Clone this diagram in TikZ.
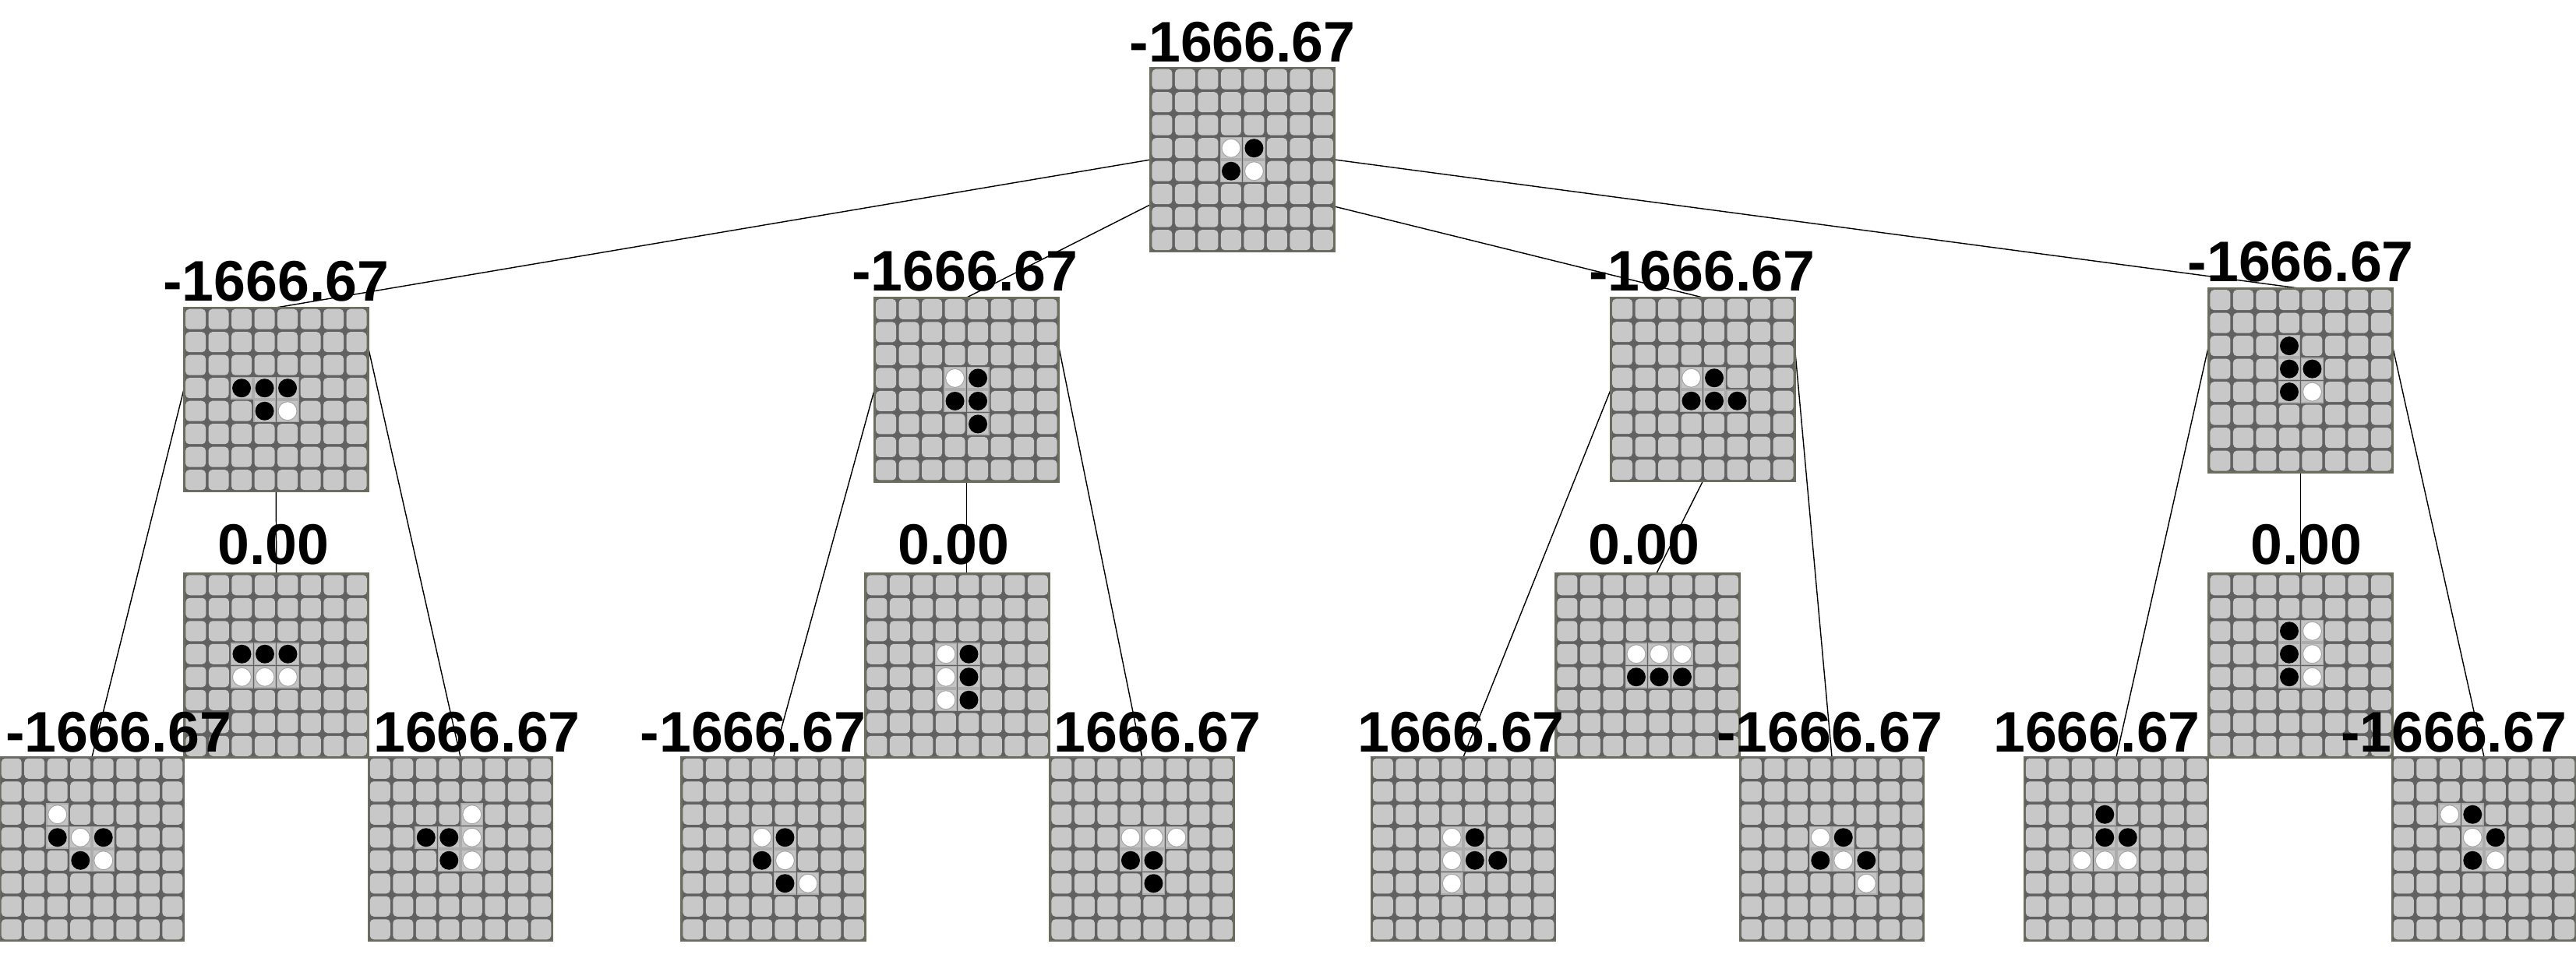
\documentclass[tikz,border=0pt]{standalone}
\usepackage{fontspec}
\setmainfont{Liberation Sans}
\usetikzlibrary{calc}

\definecolor{gapgray}{HTML}{616161}
\definecolor{cellgray}{HTML}{C8C8C8}
\definecolor{rimgray}{HTML}{6C6D5C}
\definecolor{discbg}{HTML}{C4C4C4}

\pgfdeclarelayer{back}
\pgfsetlayers{back,main}

\tikzset{
  board/.style={draw=rimgray, fill=gapgray, line width=0.8pt,
    minimum size=2.36cm, inner sep=0pt, outer sep=0pt},
  cell/.style={fill=cellgray, rounded corners=1.4pt},
  spot/.style={fill=discbg, draw=gray!65, line width=0.4pt},
  val/.style={font=\bfseries\fontsize{20.9}{21}\selectfont, anchor=base, inner sep=0pt},
  branch/.style={draw=black, line width=0.4pt}
}

% board: name, centre, black discs, white discs (col/row, row 0 at top)
\newcommand{\othboard}[4]{%
  \node[board] (#1) at (#2) {};
  \foreach \c in {0,...,7}
    \foreach \r in {0,...,7}
      \path[cell] ($(#1.center)+(-1.1625+0.295*\c,1.1625-0.295*\r)$) rectangle ++(0.26,-0.26);
  \foreach \c/\r in {#3} {
    \path[spot] ($(#1.center)+(-1.17+0.295*\c,1.17-0.295*\r)$) rectangle ++(0.275,-0.275);
    \fill[black] ($(#1.center)+(-1.0325+0.295*\c,1.0325-0.295*\r)$) circle (0.12);
  }
  \foreach \c/\r in {#4} {
    \path[spot] ($(#1.center)+(-1.17+0.295*\c,1.17-0.295*\r)$) rectangle ++(0.275,-0.275);
    \filldraw[fill=white, draw=gray!70, line width=0.3pt]
      ($(#1.center)+(-1.0325+0.295*\c,1.0325-0.295*\r)$) circle (0.12);
  }
}

\begin{document}
\begin{tikzpicture}
  \useasboundingbox (0,0) rectangle (33.06,-12.48);

  % root
  \othboard{root}{15.947,-2.05}{4/3,3/4}{3/3,4/4}

  % first moves
  \othboard{a}{3.543,-5.13}{2/3,3/3,4/3,3/4}{4/4}
  \othboard{b}{12.403,-5.002}{4/3,3/4,4/4,4/5}{3/3}
  \othboard{c}{21.853,-5.0}{4/3,3/4,4/4,5/4}{3/3}
  \othboard{d}{29.527,-4.884}{3/2,3/3,4/3,3/4}{4/4}

  % replies in the middle
  \othboard{am}{3.547,-8.545}{2/3,3/3,4/3}{2/4,3/4,4/4}
  \othboard{bm}{12.287,-8.545}{4/3,4/4,4/5}{3/3,3/4,3/5}
  \othboard{cm}{21.147,-8.545}{3/4,4/4,5/4}{3/3,4/3,5/3}
  \othboard{dm}{29.527,-8.545}{3/2,3/3,3/4}{4/2,4/3,4/4}

  % replies at the bottom
  \othboard{al}{1.18,-10.9}{2/3,4/3,3/4}{2/2,3/3,4/4}
  \othboard{ar}{5.91,-10.9}{2/3,3/3,3/4}{4/2,4/3,4/4}
  \othboard{bl}{9.927,-10.9}{4/3,3/4,4/5}{3/3,4/4,5/5}
  \othboard{br}{14.657,-10.9}{3/4,4/4,4/5}{3/3,4/3,5/3}
  \othboard{cl}{18.78,-10.9}{4/3,4/4,5/4}{3/3,3/4,3/5}
  \othboard{cr}{23.51,-10.9}{4/3,3/4,5/4}{3/3,4/4,5/5}
  \othboard{dl}{27.16,-10.9}{3/2,3/3,4/3}{2/4,3/4,4/4}
  \othboard{dr}{31.88,-10.9}{3/2,4/3,3/4}{2/2,3/3,4/4}

  % scores
  \node[val] (vroot) at ($(root.north)+(0,0.07)$) {-1666.67};
  \node[val] (va) at ($(a.north)+(0,0.08)$) {-1666.67};
  \node[val] (vb) at ($(b.north)+(-0.02,0.09)$) {-1666.67};
  \node[val] (vc) at ($(c.north)+(-0.01,0.08)$) {-1666.67};
  \node[val] (vd) at ($(d.north)+(0,0.09)$) {-1666.67};
  \node[val] (vam) at ($(am.north)+(-0.04,0.12)$) {0.00};
  \node[val] (vbm) at ($(bm.north)+(-0.05,0.12)$) {0.00};
  \node[val] (vcm) at ($(cm.north)+(-0.05,0.12)$) {0.00};
  \node[val] (vdm) at ($(dm.north)+(0.07,0.12)$) {0.00};
  \node[val] (val) at ($(al.north)+(0.34,0.07)$) {-1666.67};
  \node[val] (var) at ($(ar.north)+(0.21,0.07)$) {1666.67};
  \node[val] (vbl) at ($(bl.north)+(-0.26,0.07)$) {-1666.67};
  \node[val] (vbr) at ($(br.north)+(0.20,0.07)$) {1666.67};
  \node[val] (vcl) at ($(cl.north)+(-0.03,0.07)$) {1666.67};
  \node[val] (vcr) at ($(cr.north)+(-0.03,0.07)$) {-1666.67};
  \node[val] (vdl) at ($(dl.north)+(-0.25,0.07)$) {1666.67};
  \node[val] (vdr) at ($(dr.north)+(-0.39,0.07)$) {-1666.67};

  % tree lines
  \begin{pgfonlayer}{back}
    \draw[branch] (root.west) -- (a.north);
    \draw[branch] (root.206.6) -- (b.north);
    \draw[branch] (root.-27.3) -- (c.north);
    \draw[branch] (root.east) -- (d.north);

    \draw[branch] (a.173.7) -- (al.north);
    \draw[branch] (a.south) -- (am.north);
    \draw[branch] (a.30.7) -- (ar.north);

    \draw[branch] (b.west) -- (bl.north);
    \draw[branch] (b.south) -- (b.south |- bm.north);
    \draw[branch] (b.26.3) -- (br.north);

    \draw[branch] (c.west) -- (cl.north);
    \draw[branch] (c.south) -- ($(cm.north)+(0.11,0)$);
    \draw[branch] (c.25.6) -- (cr.north);

    \draw[branch] (d.159.1) -- (dl.north);
    \draw[branch] (d.south) -- (dm.north);
    \draw[branch] (d.20.9) -- (dr.north);
  \end{pgfonlayer}
\end{tikzpicture}
\end{document}
